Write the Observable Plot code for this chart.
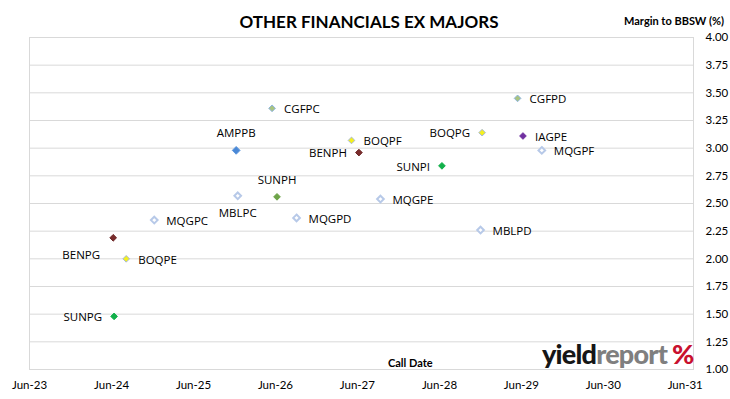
<!DOCTYPE html>
<html><head><meta charset="utf-8">
<script src="https://cdn.jsdelivr.net/npm/d3@7"></script>
<script src="https://cdn.jsdelivr.net/npm/@observablehq/plot@0.6"></script>
<style>
body{margin:0;background:#fff;}
#wrap{position:relative;width:730px;height:399px;overflow:hidden;}
.ov{position:absolute;white-space:nowrap;line-height:1;}
#title{left:0;width:738px;top:11px;text-align:center;font:bold 17px Lato,sans-serif;color:#000;}
#ytitle{left:624px;top:14px;font:bold 11px Lato,sans-serif;color:#000;}
#xtitle{left:388px;top:356px;font:bold 11px Lato,sans-serif;color:#000;}
#logo{left:542px;top:337px;font:900 27px Lato,sans-serif;letter-spacing:-0.8px;}
#logo .a{color:#161616}#logo .b{color:#7f7f7f}#logo .c{color:#c8102e;margin-left:5px}
</style></head><body>
<div id="wrap">
<div id="chart"></div>
<div class="ov" id="title">OTHER FINANCIALS EX MAJORS</div>
<div class="ov" id="ytitle">Margin to BBSW (%)</div>
<div class="ov" id="xtitle">Call Date</div>
<div class="ov" id="logo"><span class="a">yield</span><span class="b">report</span><span class="c">%</span></div>
</div>
<script>
// Data
const codes = ["CGFPC","AMPPB","BOQPF","BENPH","SUNPH","MBLPC","MQGPC","MQGPD","BENPG","BOQPE","SUNPG","CGFPD","BOQPG","IAGPE","MQGPF","SUNPI","MQGPE","MBLPD"];
const callDates = ["2026-05-17","2025-12-08","2027-05-06","2027-06-08","2026-06-08","2025-12-15","2024-12-08","2026-09-03","2024-06-08","2024-08-05","2024-06-12","2029-05-15","2028-12-08","2029-06-08","2029-08-31","2028-06-12","2027-09-12","2028-12-01"];
const margins = [3.36,2.98,3.07,2.96,2.56,2.57,2.35,2.37,2.19,2.00,1.48,3.45,3.14,3.11,2.98,2.84,2.54,2.26];
const xTickLabels = ["Jun-23","Jun-24","Jun-25","Jun-26","Jun-27","Jun-28","Jun-29","Jun-30","Jun-31"];
const yTicks = [1.00,1.25,1.50,1.75,2.00,2.25,2.50,2.75,3.00,3.25,3.50,3.75,4.00];

// Label placement (categorical, per code)
const labelSide = {CGFPC:"right",AMPPB:"top",BOQPF:"right",BENPH:"left",SUNPH:"top",MBLPC:"bottom",MQGPC:"right",MQGPD:"right",BENPG:"belowleft",BOQPE:"right",SUNPG:"left",CGFPD:"right",BOQPG:"left",IAGPE:"right",MQGPF:"right",SUNPI:"left",MQGPE:"right",MBLPD:"right"};

// Styles
const hollow = {fill:"#ffffff", stroke:"#b7c9e8"};
const style = {
  CGFPC:{fill:"#a9c47f",stroke:"#8db3e2"}, CGFPD:{fill:"#a9c47f",stroke:"#8db3e2"},
  AMPPB:{fill:"#4a88d6",stroke:"#5b95dc"},
  BOQPF:{fill:"#f4f020",stroke:"#a6b8d8"}, BOQPG:{fill:"#f4f020",stroke:"#a6b8d8"}, BOQPE:{fill:"#f4f020",stroke:"#a6b8d8"},
  BENPH:{fill:"#7a2c2c",stroke:"#6b2424"}, BENPG:{fill:"#7a2c2c",stroke:"#6b2424"},
  SUNPH:{fill:"#6ea449",stroke:"#6ea449"},
  SUNPI:{fill:"#12b04a",stroke:"#12b04a"}, SUNPG:{fill:"#12b04a",stroke:"#12b04a"},
  IAGPE:{fill:"#7030a0",stroke:"#7030a0"},
  MQGPC:hollow, MQGPD:hollow, MQGPE:hollow, MQGPF:hollow, MBLPC:hollow, MBLPD:hollow
};

const data = codes.map((c,i)=>({code:c, date:new Date(callDates[i]), margin:margins[i], side:labelSide[c]}));
const tickDates = xTickLabels.map(s => d3.utcParse("%b-%y")(s));
const fmtX = d3.utcFormat("%b-%y");

const font = "Open Sans, sans-serif";
const sides = {
  right:{dx:12,dy:1,textAnchor:"start"},
  left:{dx:-12,dy:1,textAnchor:"end"},
  top:{dx:0,dy:-17,textAnchor:"middle"},
  bottom:{dx:0,dy:18,textAnchor:"middle"},
  belowleft:{dx:-32,dy:18,textAnchor:"middle"}
};

const textMarks = Object.entries(sides).map(([k,o]) =>
  Plot.text(data.filter(d=>d.side===k), {x:"date", y:"margin", text:"code", dx:o.dx, dy:o.dy, textAnchor:o.textAnchor, fill:"#000", fontSize:11.5, fontFamily:font})
);

const chart = Plot.plot({
  width:730, height:399,
  marginLeft:29, marginRight:37, marginTop:37, marginBottom:30,
  style:{fontFamily:"Lato, sans-serif", fontSize:"11px", color:"#000", background:"#fff"},
  x:{type:"utc", domain:[new Date("2023-06-01"), new Date("2031-07-08")]},
  y:{domain:[1,4]},
  marks:[
    Plot.gridY(yTicks, {stroke:"#d9d9d9", strokeOpacity:1}),
    Plot.frame({stroke:"#d9d9d9"}),
    Plot.axisY(yTicks, {anchor:"right", tickSize:0, tickPadding:12, tickFormat:d3.format(".2f"), label:null, fontSize:11.5}),
    Plot.axisX(tickDates, {anchor:"bottom", tickSize:0, tickPadding:11, tickFormat:fmtX, label:null, fontSize:11.5}),
    Plot.dot(data, {x:"date", y:"margin", symbol:"diamond2", r:d=>d.code==="AMPPB"?5.4:4,
      fill:d=>style[d.code].fill, stroke:d=>style[d.code].stroke, strokeWidth:d=>style[d.code]===hollow?2:1}),
    ...textMarks
  ]
});
document.getElementById("chart").appendChild(chart);
</script>
</body></html>
